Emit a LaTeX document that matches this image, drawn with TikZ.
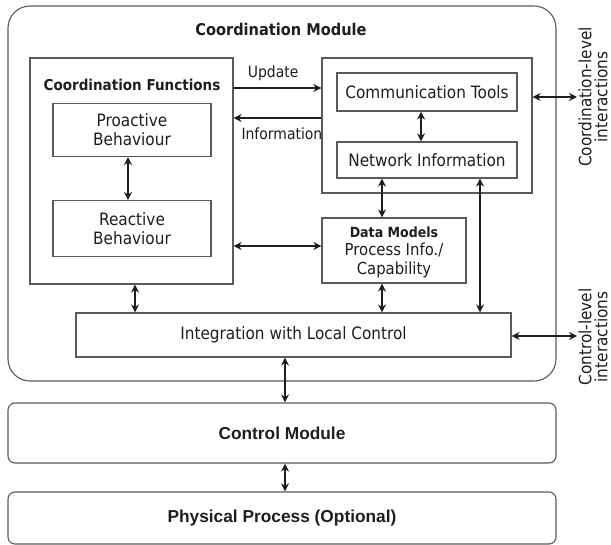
\documentclass[tikz,border=0pt]{standalone}
\usepackage{fontspec}
\setmainfont{DejaVu Sans}[FakeStretch=0.9]
\newfontfamily\headfont{Liberation Sans}
\usetikzlibrary{arrows.meta}

\definecolor{frame}{HTML}{5A5A5A}
\definecolor{ink}{HTML}{1E1E1E}

\tikzset{
  boxnode/.style={draw=frame, line width=1.1pt, rectangle, inner sep=0pt},
  roundbox/.style={boxnode, rounded corners=#1},
  txt/.style={text=ink, inner sep=0pt, align=center, font=\fontsize{17}{19}\selectfont},
  smalltxt/.style={txt, font=\fontsize{15.5}{18}\selectfont},
  sidetxt/.style={txt, rotate=90, font=\fontsize{17}{16}\selectfont},
  bigbold/.style={text=ink, inner sep=0pt, font=\fontsize{16.2}{19}\selectfont\bfseries},
  modlabel/.style={text=ink, inner sep=0pt, font=\headfont\fontsize{17.3}{20}\selectfont\bfseries},
  tip/.tip={Stealth[length=8pt,width=8pt]},
  link/.style={draw=ink, line width=1.1pt, tip-tip},
  oneway/.style={draw=ink, line width=1.1pt, -tip},
}

\begin{document}
\begin{tikzpicture}[x=1pt, y=-1pt]
  \clip (0,0) rectangle (611,545);
  \fill[white] (0,0) rectangle (611,545);

  % Coordination module frame and title
  \node[roundbox=22pt, minimum width=548pt, minimum height=375pt] (coord) at (282,193.5) {};
  \node[bigbold] (coordtitle) at (281,29) {Coordination Module};

  % Coordination functions
  \node[boxnode, minimum width=203pt, minimum height=226pt] (cf) at (131.5,171) {};
  \node[bigbold, font=\fontsize{15}{18}\selectfont\bfseries] (cftitle) at (132,85) {Coordination Functions};
  \node[boxnode, minimum width=158pt, minimum height=53pt, txt] (pro) at (132,130) {Proactive\\Behaviour};
  \node[boxnode, minimum width=158pt, minimum height=56pt, txt] (rea) at (132,228.5) {Reactive\\Behaviour};

  % Communication group
  \node[boxnode, minimum width=210pt, minimum height=135pt] (comgrp) at (427,125.5) {};
  \node[boxnode, minimum width=180pt, minimum height=38pt, txt] (comm) at (427,92) {Communication Tools};
  \node[boxnode, minimum width=180pt, minimum height=36pt, txt] (net) at (427,160) {Network Information};

  % Data models
  \node[boxnode, minimum width=144pt, minimum height=65pt] (data) at (394,250.5) {};
  \node[bigbold, font=\fontsize{14}{17}\selectfont\bfseries] (datatitle) at (394,232) {Data Models};
  \node[txt, font=\fontsize{16.5}{18.5}\selectfont] (datatext) at (394,260.5) {Process Info./\\Capability};

  % Integration layer
  \node[boxnode, minimum width=435pt, minimum height=44pt, txt] (integ) at (293.5,335) {Integration with Local Control};

  % Lower modules
  \node[roundbox=7pt, minimum width=548pt, minimum height=60pt, modlabel] (ctrl) at (282,433) {Control Module};
  \node[roundbox=7pt, minimum width=548pt, minimum height=52pt, modlabel] (phys) at (282,518) {Physical Process (Optional)};

  % Side labels
  \coordinate (coordout) at (577,97);
  \coordinate (ctrlout) at (577,336);
  \node[sidetxt] (coordlbl) at (593,97) {Coordination-level\\interactions};
  \node[sidetxt] (ctrllbl) at (593,337) {Control-level\\interactions};

  % Connectors
  \draw[link] (pro.south -| 128,0) -- (rea.north -| 128,0);
  \draw[oneway] (cf.east |- 0,88) -- (comgrp.west |- 0,88)
    node[smalltxt, pos=0.45, above=7pt] (updlbl) {Update};
  \draw[oneway] (comgrp.west |- 0,118) -- (cf.east |- 0,118)
    node[smalltxt, pos=0.45, below=9pt] (infolbl) {Information};
  \draw[link] (comm.south -| 421,0) -- (net.north -| 421,0);
  \draw[link] (comgrp.east |- coordout) -- (coordout);
  \draw[link] (net.south -| 382,0) -- (data.north -| 382,0);
  \draw[link] (net.south -| 480,0) -- (integ.north -| 480,0);
  \draw[link] (cf.east |- 0,246) -- (data.west |- 0,246);
  \draw[link] (cf.south -| 135,0) -- (integ.north -| 135,0);
  \draw[link] (data.south -| 382,0) -- (integ.north -| 382,0);
  \draw[link] (integ.east |- ctrlout) -- (ctrlout);
  \draw[link] (integ.south -| 285,0) -- (ctrl.north -| 285,0);
  \draw[link] (ctrl.south -| 285,0) -- (phys.north -| 285,0);
\end{tikzpicture}
\end{document}
